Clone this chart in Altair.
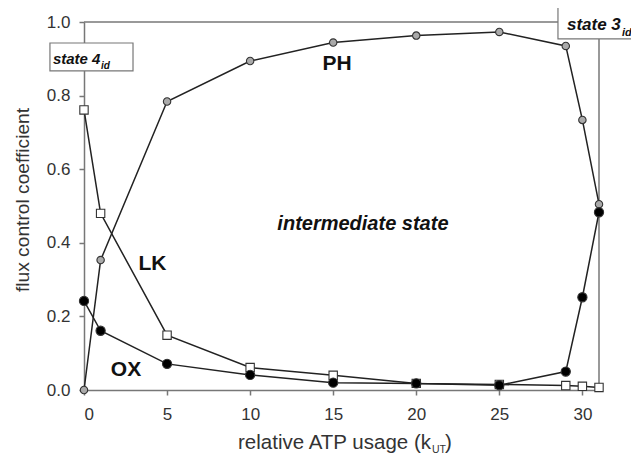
import altair as alt
import pandas as pd

# ---- data ----
x_vals = [0, 1, 5, 10, 15, 20, 25, 29, 30, 31]
ph_vals = [0.0, 0.353, 0.784, 0.894, 0.944, 0.963, 0.973, 0.935, 0.734, 0.505]
lk_vals = [0.761, 0.48, 0.149, 0.061, 0.040, 0.018, 0.015, 0.012, 0.010, 0.007]
ox_vals = [0.242, 0.161, 0.071, 0.041, 0.020, 0.018, 0.013, 0.050, 0.252, 0.483]
series_names = ["PH", "LK", "OX"]
x_ticks = [0, 5, 10, 15, 20, 25, 30]
y_ticks = [0.0, 0.2, 0.4, 0.6, 0.8, 1.0]

rows = []
for name, vals in zip(series_names, [ph_vals, lk_vals, ox_vals]):
    for xv, yv in zip(x_vals, vals):
        rows.append({"series": name, "x": xv, "y": yv})
df = pd.DataFrame(rows)
one = pd.DataFrame({"k": [0]})

FONT = "Liberation Sans"
W, H = 515, 368
AX = "#777777"
TXT = "#333333"

xs = alt.Scale(domain=[0, 31], nice=False, zero=False)
ys = alt.Scale(domain=[0, 1], nice=False, zero=False)

xaxis = alt.Axis(values=x_ticks, title=None, grid=False, tickSize=5, labelFontSize=17,
                 labelColor=TXT, labelFont=FONT, domainColor=AX, tickColor=AX,
                 domainWidth=1.5, tickWidth=1.5, labelPadding=11)
yaxis = alt.Axis(values=y_ticks, format=".1f", title=None, grid=False, tickSize=5,
                 labelFontSize=17, labelColor=TXT, labelFont=FONT, domainColor=AX,
                 tickColor=AX, domainWidth=1.5, tickWidth=1.5, labelPadding=9)

base = alt.Chart(df)

lines = base.mark_line(color="#222222", strokeWidth=1.5).encode(
    x=alt.X("x:Q", scale=xs, axis=xaxis),
    y=alt.Y("y:Q", scale=ys, axis=yaxis),
    detail="series:N",
)

points = base.mark_point(filled=True, stroke="#333333", strokeWidth=1.1, opacity=1).encode(
    x=alt.X("x:Q", scale=xs),
    y=alt.Y("y:Q", scale=ys),
    shape=alt.Shape("series:N", scale=alt.Scale(domain=series_names,
                    range=["circle", "square", "circle"]), legend=None),
    fill=alt.Fill("series:N", scale=alt.Scale(domain=series_names,
                  range=["#aaaaaa", "#ffffff", "#000000"]), legend=None),
    size=alt.Size("series:N", scale=alt.Scale(domain=series_names,
                  range=[55, 85, 55]), legend=None),
)

ann = alt.Chart(one)

# frame: top line and right line at x = 31
top_rule = ann.mark_rule(color=AX, strokeWidth=1.5).encode(
    x=alt.datum(0), x2=alt.datum(31), y=alt.datum(1))
right_rule = ann.mark_rule(color=AX, strokeWidth=1.5).encode(
    x=alt.datum(31), y=alt.datum(0), y2=alt.datum(1))

# state boxes
box4 = ann.mark_rect(fill="white", stroke=AX, strokeWidth=1.2).encode(
    x=alt.datum(-2.05), x2=alt.datum(2.95), y=alt.datum(0.943), y2=alt.datum(0.867))
box3 = ann.mark_rect(fill="white", stroke=AX, strokeWidth=1.2).encode(
    x=alt.datum(28.53), x2=alt.datum(35.5), y=alt.datum(1.041), y2=alt.datum(0.954))

def txt(s, x, y, size, weight="bold", style="italic", align="left"):
    return ann.mark_text(text=s, font=FONT, fontSize=size, fontWeight=weight,
                         fontStyle=style, align=align, baseline="alphabetic",
                         color="#111111").encode(x=alt.datum(x), y=alt.datum(y))

s4 = txt("state 4", -1.87, 0.886, 15)
s4i = txt("id", 1.02, 0.872, 10)
s3 = txt("state 3", 29.07, 0.978, 17)
s3i = txt("id", 32.38, 0.962, 11)

lab_ph = txt("PH", 15.23, 0.87, 21, style="normal", align="center")
lab_lk = txt("LK", 4.12, 0.326, 21, style="normal", align="center")
lab_ox = txt("OX", 2.53, 0.038, 21, style="normal", align="center")
lab_mid = txt("intermediate state", 16.79, 0.435, 20, align="center")

# axis titles (pixel positions relative to plot area)
def ptxt(s, x, y, size, align="left", angle=0, baseline="alphabetic"):
    return ann.mark_text(text=s, font=FONT, fontSize=size, fontWeight="normal",
                         align=align, baseline=baseline, angle=angle,
                         color=TXT).encode(x=alt.value(x), y=alt.value(y))

xt1 = ptxt("relative ATP usage (k", 347, 427, 20.5, align="right")
xt2 = ptxt("UT", 348, 431, 10.5)
xt3 = ptxt(")", 361, 427, 20.5)
yt = ptxt("flux control coefficient", -61, 178, 19.2, align="center", angle=270,
          baseline="middle")

chart = alt.layer(
    top_rule, right_rule, lines, points,
    lab_ph, lab_lk, lab_ox, lab_mid,
    box4, s4, s4i, box3, s3, s3i,
    xt1, xt2, xt3, yt,
).properties(
    width=W, height=H,
    autosize=alt.AutoSizeParams(type="none"),
    padding={"left": 76, "top": 14, "right": 32, "bottom": 65},
    background="white",
).configure_view(stroke=None)

chart.save("out.html", embed_options={"renderer": "svg", "actions": False})
